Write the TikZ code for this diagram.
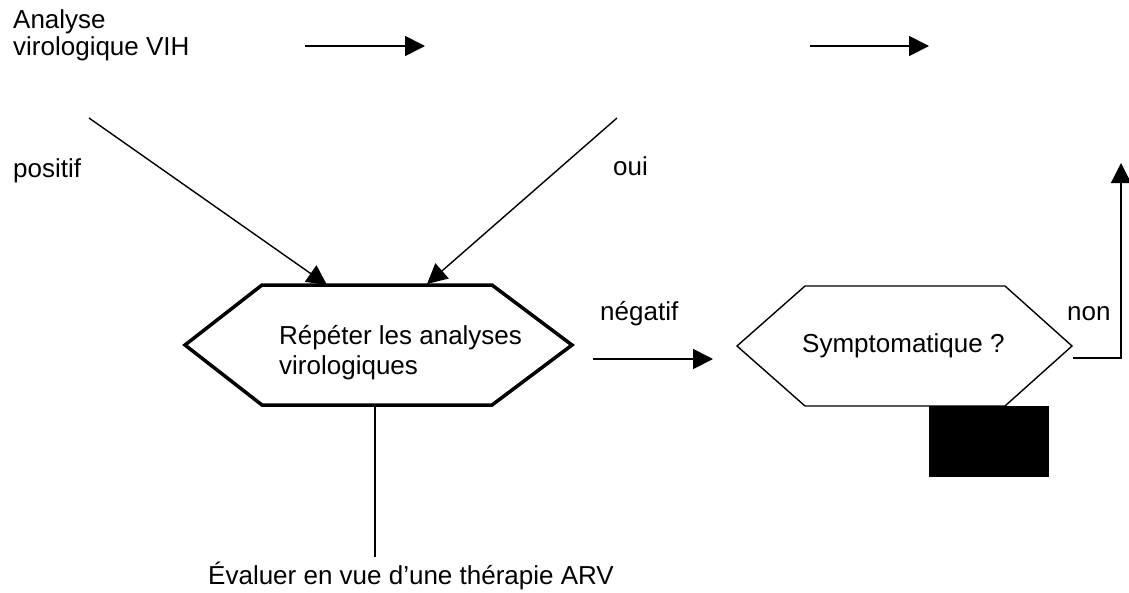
\documentclass[tikz,border=0pt]{standalone}
\usepackage{fontspec}
\setmainfont{Liberation Sans}
\usetikzlibrary{arrows.meta}
\begin{document}
\begin{tikzpicture}[x=1pt,y=-1pt,
  lbl/.style={anchor=base west,inner sep=0pt,font=\fontsize{26}{30}\selectfont},
  arr/.style={line width=1.8pt,-{Triangle[length=20pt,width=20pt]}},
  thin/.style={line width=1.4pt},
  hexthick/.style={line width=3.5pt,line join=miter},
  hexthin/.style={line width=1.4pt,line join=miter}]
\useasboundingbox (0,0) rectangle (1129,592);
% texts (base anchor of a multi-line node = last line)
\node[lbl,align=left] (ana) at (13,55) {Analyse\\[-3pt]virologique VIH};
\node[lbl] (pos) at (13,177) {positif};
\node[lbl] (oui) at (613,175) {oui};
\node[lbl] (neg) at (600,320) {négatif};
\node[lbl] (non) at (1067,320) {non};
\node[lbl,align=left] (rep) at (279,374) {Répéter les analyses\\virologiques};
\node[lbl] (sym) at (802,352) {Symptomatique ?};
\node[lbl] (eva) at (208,584) {Évaluer en vue d’une thérapie ARV};
% hexagon 1
\draw[hexthick] (185,345) coordinate (h1w) -- (262,285) -- (492,285) -- (572,345) coordinate (h1e)
  -- (492,405) -- (262,405) -- cycle;
\coordinate (h1t1) at (327,285);
\coordinate (h1t2) at (427,284);
\coordinate (h1b) at (375,405);
% hexagon 2
\draw[hexthin] (737,346) coordinate (h2w) -- (805,286) -- (1005,286) -- (1072,346) coordinate (h2e)
  -- (1005,406) -- (805,406) -- cycle;
% black box
\fill (929,406) rectangle (1049,477);
% top arrows
\coordinate (a1s) at (305,46); \coordinate (a1e) at (425,46);
\coordinate (a2s) at (810,46); \coordinate (a2e) at (929,46);
\draw[arr] (a1s) -- (a1e);
\draw[arr] (a2s) -- (a2e);
% diagonals
\coordinate (d1s) at (89,118);
\coordinate (d2s) at (617,118);
\draw[thin,-{Triangle[length=20pt,width=20pt]}] (d1s) -- (h1t1);
\draw[thin,-{Triangle[length=20pt,width=20pt]}] (d2s) -- (h1t2);
% bottom line
\coordinate (bl) at (375,557);
\draw[thin] (h1b) -- (bl);
% negatif arrow
\coordinate (n1) at (593,359); \coordinate (n2) at (713,359);
\draw[arr] (n1) -- (n2);
% non path
\coordinate (nr1) at (1073,358); \coordinate (nr2) at (1121,358); \coordinate (nr3) at (1121,163);
\draw[thin,-{Triangle[length=20pt,width=20pt]}] (nr1) -- (nr2) -- (nr3);
\end{tikzpicture}
\end{document}
